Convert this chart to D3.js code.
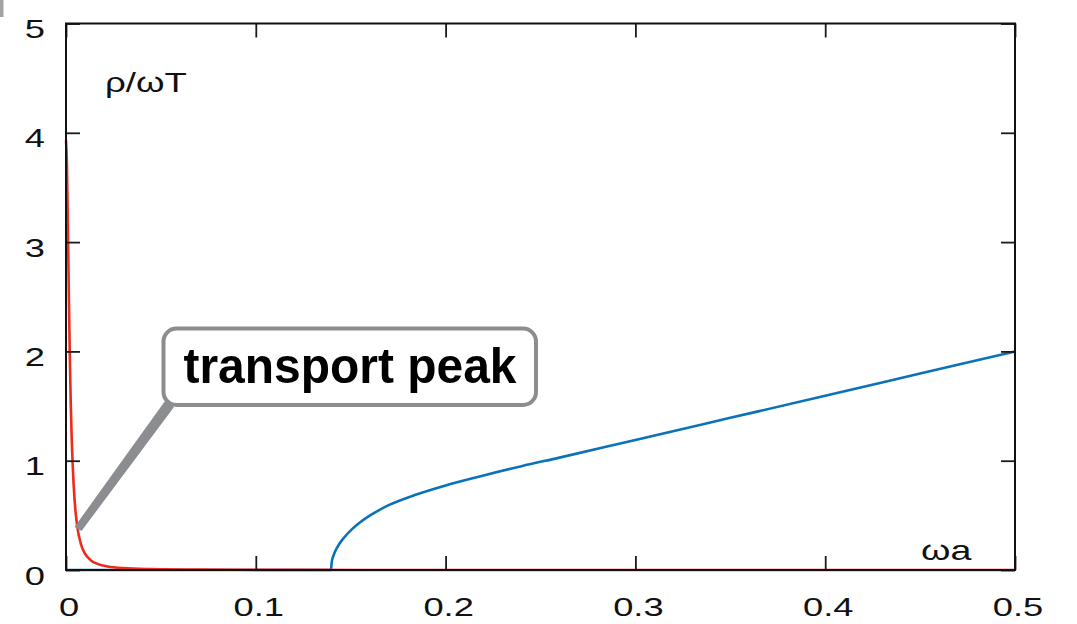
<!DOCTYPE html>
<html>
<head>
<meta charset="utf-8">
<script src="https://cdn.jsdelivr.net/npm/d3@7"></script>
<style>
  body { margin: 0; background: #fff; }
  svg { display: block; font-family: "Liberation Sans", Arial, sans-serif; }
</style>
</head>
<body>
<svg width="1077" height="624"></svg>
<script>
// values
const xTicks = [0, 0.1, 0.2, 0.3, 0.4, 0.5];
const yTicks = [0, 1, 2, 3, 4, 5];
const xTickLabels = ["0", "0.1", "0.2", "0.3", "0.4", "0.5"];
const yTickLabels = ["0", "1", "2", "3", "4", "5"];

// red curve: transport peak (omega*a, rho/omegaT)
const peakX = [0, 0.0005, 0.001, 0.0015, 0.002, 0.0025, 0.003, 0.004, 0.005, 0.006, 0.008, 0.010, 0.013, 0.017, 0.022, 0.030, 0.045, 0.070, 0.120, 0.200, 0.300, 0.400, 0.500];
const peakY = [3.93, 3.70, 3.14, 2.52, 1.97, 1.53, 1.21, 0.79, 0.54, 0.39, 0.23, 0.15, 0.09, 0.054, 0.032, 0.017, 0.008, 0.003, 0.001, 0, 0, 0, 0];

// blue curve: threshold continuum
const contX = [0, 0.05, 0.10, 0.1396, 0.1400, 0.141, 0.143, 0.146, 0.151, 0.155, 0.160, 0.165, 0.170, 0.185, 0.200, 0.220, 0.240, 0.260, 0.300, 0.350, 0.400, 0.450, 0.500];
const contY = [0, 0, 0, 0, 0.072, 0.135, 0.21, 0.286, 0.379, 0.437, 0.497, 0.548, 0.593, 0.693, 0.774, 0.865, 0.95, 1.028, 1.19, 1.392, 1.594, 1.797, 2.0];

const yLabel = ["ρ/ωT"];
const xLabel = ["ωa"];
const calloutText = "transport peak";

const svg = d3.select("svg");
const margin = { top: 23.5, right: 62, bottom: 54, left: 66 };
const width = +svg.attr("width");
const height = +svg.attr("height");
const innerWidth = width - margin.left - margin.right;
const innerHeight = height - margin.top - margin.bottom;
const stretch = 1.37; // the original figure is stretched sideways, text too

const xScale = d3.scaleLinear().domain([0, 0.5]).range([0, innerWidth]);
const yScale = d3.scaleLinear().domain([0, 5]).range([innerHeight, 0]);

// little grey mark in the corner of the original
svg.append("rect").attr("x", 0).attr("y", 0).attr("width", 3.5).attr("height", 17).attr("fill", "#a3a3a3");

const g = svg.append("g").attr("transform", `translate(${margin.left},${margin.top})`);

svg.append("defs").append("clipPath").attr("id", "plot-clip")
  .append("rect").attr("x", -2).attr("y", -2).attr("width", innerWidth + 4).attr("height", innerHeight + 4);

const lineGen = (xs, ys) => d3.line()
  .x((d, i) => xScale(xs[i]))
  .y((d, i) => yScale(ys[i]))
  .curve(d3.curveMonotoneX)(xs);

g.append("path")
  .attr("clip-path", "url(#plot-clip)")
  .attr("d", lineGen(contX, contY))
  .attr("fill", "none")
  .attr("stroke", "#0a72b8")
  .attr("stroke-width", 2.6);

g.append("path")
  .attr("clip-path", "url(#plot-clip)")
  .attr("d", lineGen(peakX, peakY))
  .attr("fill", "none")
  .attr("stroke", "#ec2b1d")
  .attr("stroke-width", 2.6);

// axes, ticks pointing inward
const fontSize = 26.5;
const xAxisG = g.append("g")
  .attr("transform", `translate(0,${innerHeight})`)
  .call(d3.axisBottom(xScale).tickValues(xTicks).tickFormat((d, i) => xTickLabels[i]).tickSize(-14).tickPadding(27));
const yAxisG = g.append("g")
  .call(d3.axisLeft(yScale).tickValues(yTicks).tickFormat((d, i) => yTickLabels[i]).tickSize(-14).tickPadding(21 / stretch));
const topAxisG = g.append("g")
  .call(d3.axisTop(xScale).tickValues(xTicks).tickFormat("").tickSize(-14));
const rightAxisG = g.append("g")
  .attr("transform", `translate(${innerWidth},0)`)
  .call(d3.axisRight(yScale).tickValues(yTicks).tickFormat("").tickSize(-14));

[xAxisG, yAxisG, topAxisG, rightAxisG].forEach(a => {
  a.select(".domain").remove();
  a.selectAll(".tick line").attr("stroke", "#1a1a1a").attr("stroke-width", 1.8);
  a.selectAll("text")
    .attr("font-family", "'Liberation Sans', Arial, sans-serif")
    .attr("font-size", fontSize)
    .attr("fill", "#111")
    .attr("transform", `scale(${stretch},1)`);
});
xAxisG.selectAll("text").attr("dx", 2.5 / stretch);
yAxisG.selectAll("text").attr("dy", 14);

g.append("rect")
  .attr("width", innerWidth)
  .attr("height", innerHeight)
  .attr("fill", "none")
  .attr("stroke", "#111")
  .attr("stroke-width", 2);

g.selectAll(".y-label").data(yLabel).enter().append("text")
  .attr("class", "y-label")
  .attr("transform", `translate(39,68) scale(${stretch * 0.97},1)`)
  .attr("font-size", 27.5)
  .attr("fill", "#111")
  .text(d => d);

g.selectAll(".x-label").data(xLabel).enter().append("text")
  .attr("class", "x-label")
  .attr("transform", `translate(855,536) scale(${stretch},1)`)
  .attr("font-size", 27.5)
  .attr("fill", "#111")
  .text(d => d);

// callout
const callout = svg.append("g");
const grey = "#8b8d91";
callout.append("polygon")
  .attr("points", [[74.5, 527], [81.5, 531], [174, 407], [165, 401]].map(p => p.join(",")).join(" "))
  .attr("fill", grey);
callout.append("rect")
  .attr("x", 163.5)
  .attr("y", 328.5)
  .attr("width", 372.5)
  .attr("height", 76.5)
  .attr("rx", 13)
  .attr("fill", "#fff")
  .attr("stroke", grey)
  .attr("stroke-width", 4);
callout.append("text")
  .attr("x", 183.5)
  .attr("y", 383)
  .attr("font-size", 50)
  .attr("font-weight", "bold")
  .attr("textLength", 333)
  .attr("lengthAdjust", "spacingAndGlyphs")
  .attr("fill", "#000")
  .text(calloutText);
</script>
</body>
</html>
